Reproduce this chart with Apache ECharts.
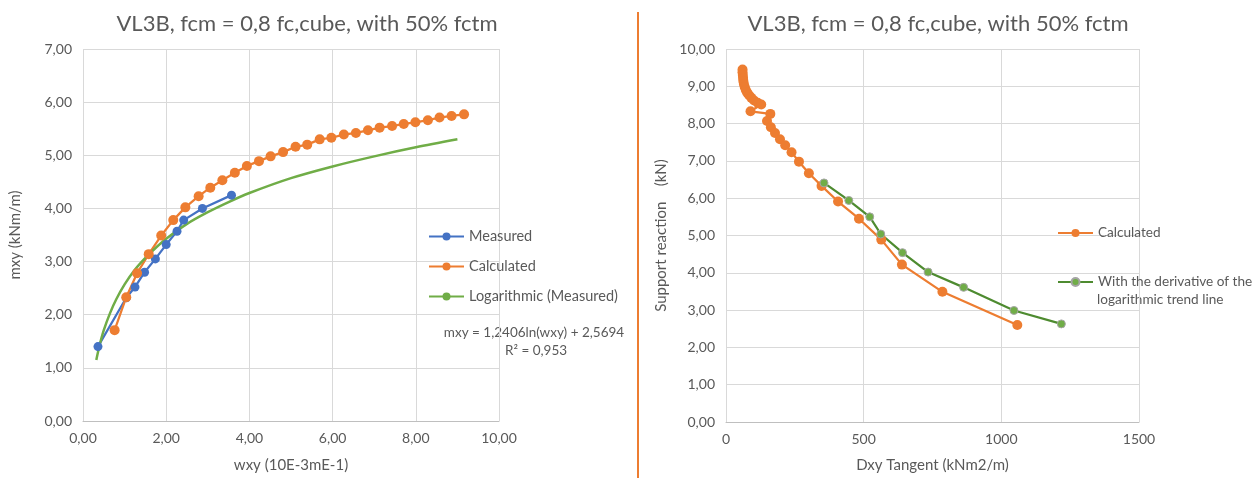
<!DOCTYPE html>
<html><head><meta charset="utf-8">
<script src="https://cdn.jsdelivr.net/npm/echarts@6/dist/echarts.min.js"></script>
<style>html,body{margin:0;padding:0;background:#fff}#c{width:1259px;height:478px}</style>
</head><body><div id="c"></div>
<script>
// ---- Left chart data ----
const titleText = 'VL3B, fcm = 0,8 fc,cube, with 50% fctm';
const measuredX = [0.36, 1.04, 1.25, 1.48, 1.74, 2.00, 2.26, 2.42, 2.87, 3.57];
const measuredY = [1.40, 2.32, 2.52, 2.80, 3.05, 3.32, 3.57, 3.78, 4.00, 4.25];
const calcLX = [0.76, 1.04, 1.30, 1.58, 1.88, 2.17, 2.46, 2.78, 3.06, 3.35, 3.65, 3.94, 4.23, 4.51, 4.81, 5.11, 5.39, 5.69, 5.97, 6.27, 6.56, 6.85, 7.13, 7.43, 7.71, 7.99, 8.29, 8.57, 8.86, 9.16];
const calcLY = [1.71, 2.33, 2.78, 3.14, 3.49, 3.78, 4.02, 4.23, 4.39, 4.53, 4.67, 4.80, 4.89, 4.98, 5.06, 5.16, 5.20, 5.30, 5.33, 5.39, 5.42, 5.47, 5.52, 5.55, 5.59, 5.62, 5.66, 5.71, 5.74, 5.77];
const logX = [0.32, 0.4, 0.5, 0.65, 0.8, 1.0, 1.25, 1.5, 1.75, 2.0, 2.5, 3.0, 3.5, 4.0, 5.0, 6.0, 7.0, 8.0, 9.0];
const logY = [1.15, 1.43, 1.71, 2.03, 2.29, 2.57, 2.85, 3.07, 3.26, 3.43, 3.71, 3.93, 4.12, 4.29, 4.57, 4.79, 4.98, 5.15, 5.30];
const eqLine1 = 'mxy = 1,2406ln(wxy) + 2,5694';
const eqLine2 = 'R² = 0,953';
// ---- Right chart data ----
const calcRX = [60, 60, 61, 62, 63, 65, 68, 72, 77, 84, 92, 102, 115, 128, 89, 161, 149, 163, 178, 196, 215, 238, 265, 301, 347, 407, 483, 564, 639, 786, 1058];
const calcRY = [9.45, 9.38, 9.30, 9.22, 9.14, 9.06, 8.98, 8.90, 8.83, 8.76, 8.69, 8.62, 8.56, 8.51, 8.33, 8.26, 8.07, 7.90, 7.75, 7.58, 7.42, 7.23, 6.98, 6.67, 6.33, 5.91, 5.45, 4.89, 4.22, 3.49, 2.60];
const derivX = [356, 446, 522, 562, 641, 734, 863, 1046, 1218];
const derivY = [6.41, 5.94, 5.50, 5.04, 4.54, 4.02, 3.61, 2.99, 2.63];

const zip = (a, b) => a.map((v, i) => [v, b[i]]);
const FONT = 'Lato, "Open Sans", sans-serif';
const TXT = '#595959';
const GRIDC = '#D9D9D9';
const fmt2 = v => v.toFixed(2).replace('.', ',');
const fmt0 = v => String(v);

const chart = echarts.init(document.getElementById('c'), null, {renderer: 'canvas'});
const axisCommon = {
  axisTick: {show: false},
  axisLabel: {color: TXT, fontSize: 14, fontFamily: FONT},
  splitLine: {show: true, lineStyle: {color: GRIDC, width: 1}},
  nameTextStyle: {color: TXT, fontSize: 15, fontFamily: FONT},
  nameLocation: 'middle'
};
const legendText = {color: TXT, fontSize: 14.5, fontFamily: FONT};
const legendTextR = {color: TXT, fontSize: 13.6, fontFamily: FONT};
const option = {
  animation: false,
  textStyle: {fontFamily: FONT},
  title: [
    {text: titleText, left: 302, top: 8, textAlign: 'center', textStyle: {color: TXT, fontSize: 22, fontWeight: 'normal', fontFamily: FONT}},
    {text: titleText, left: 933, top: 8, textAlign: 'center', textStyle: {color: TXT, fontSize: 22, fontWeight: 'normal', fontFamily: FONT}}
  ],
  grid: [
    {left: 83, right: 760, top: 49, bottom: 55},
    {left: 726, right: 120, top: 49, bottom: 54}
  ],
  xAxis: [
    Object.assign({}, axisCommon, {gridIndex: 0, type: 'value', min: 0, max: 10, interval: 2,
      name: 'wxy (10E-3mE-1)', nameGap: 37,
      axisLine: {show: true, lineStyle: {color: '#BFBFBF'}},
      axisLabel: Object.assign({}, axisCommon.axisLabel, {margin: 10, formatter: fmt2})}),
    Object.assign({}, axisCommon, {gridIndex: 1, type: 'value', min: 0, max: 1500, interval: 500,
      name: 'Dxy Tangent (kNm2/m)', nameGap: 36,
      axisLine: {show: true, lineStyle: {color: '#BFBFBF'}},
      axisLabel: Object.assign({}, axisCommon.axisLabel, {margin: 10, formatter: fmt0})})
  ],
  yAxis: [
    Object.assign({}, axisCommon, {gridIndex: 0, type: 'value', min: 0, max: 7, interval: 1,
      name: 'mxy (kNm/m)', nameGap: 60,
      axisLine: {show: false},
      axisLabel: Object.assign({}, axisCommon.axisLabel, {margin: 11, formatter: fmt2})}),
    Object.assign({}, axisCommon, {gridIndex: 1, type: 'value', min: 0, max: 10, interval: 1,
      name: 'Support reaction    (kN)', nameGap: 57,
      axisLine: {show: false},
      axisLabel: Object.assign({}, axisCommon.axisLabel, {margin: 11, formatter: fmt2})})
  ],
  legend: [
    {data: ['Measured', 'Calculated', 'Logarithmic (Measured)'], orient: 'vertical', left: 428, top: 229, padding: 0,
     itemWidth: 35, itemHeight: 10, itemGap: 15, textStyle: legendText},
    {data: [{name: 'Calculated '}], orient: 'vertical', left: 1057, top: 226, padding: 0,
     itemWidth: 35, itemHeight: 10, textStyle: legendTextR},
    {data: [{name: 'With the derivative of the logarithmic trend line'}], orient: 'vertical', left: 1057, top: 275, padding: 0,
     itemWidth: 35, itemHeight: 10, formatter: () => 'With the derivative of the', textStyle: legendTextR}
  ],
  graphic: [
    {type: 'line', shape: {x1: 638, y1: 12, x2: 638, y2: 478}, style: {stroke: '#ED7D31', lineWidth: 2}},
    {type: 'text', x: 534, y: 333, style: {text: eqLine1, fill: TXT, font: '13.5px ' + FONT, textAlign: 'center', textVerticalAlign: 'middle'}},
    {type: 'text', x: 536, y: 351, style: {text: eqLine2, fill: TXT, font: '13.5px ' + FONT, textAlign: 'center', textVerticalAlign: 'middle'}},
    {type: 'text', x: 1097, y: 300, style: {text: 'logarithmic trend line', fill: TXT, font: '13.6px ' + FONT, textAlign: 'left', textVerticalAlign: 'middle'}}
  ],
  series: [
    {name: 'Measured', type: 'line', xAxisIndex: 0, yAxisIndex: 0, data: zip(measuredX, measuredY),
     symbol: 'circle', symbolSize: 9, lineStyle: {color: '#4472C4', width: 2.25}, itemStyle: {color: '#4472C4'}},
    {name: 'Calculated', type: 'line', xAxisIndex: 0, yAxisIndex: 0, data: zip(calcLX, calcLY),
     symbol: 'circle', symbolSize: 10, lineStyle: {color: '#ED7D31', width: 2.25}, itemStyle: {color: '#ED7D31'}},
    {name: 'Logarithmic (Measured)', type: 'line', xAxisIndex: 0, yAxisIndex: 0, data: zip(logX, logY),
     symbol: 'none', smooth: 0.3, lineStyle: {color: '#70AD47', width: 2.5}, itemStyle: {color: '#70AD47'}},
    {name: 'Calculated ', type: 'line', xAxisIndex: 1, yAxisIndex: 1, data: zip(calcRX, calcRY),
     symbol: 'circle', symbolSize: 10, lineStyle: {color: '#ED7D31', width: 2.25}, itemStyle: {color: '#ED7D31'}},
    {name: 'With the derivative of the logarithmic trend line', type: 'line', xAxisIndex: 1, yAxisIndex: 1, data: zip(derivX, derivY),
     symbol: 'circle', symbolSize: 8, lineStyle: {color: '#4E8B30', width: 2.25},
     itemStyle: {color: '#70AD47', borderColor: '#A5A5A5', borderWidth: 1}}
  ]
};
chart.setOption(option);
</script></body></html>
